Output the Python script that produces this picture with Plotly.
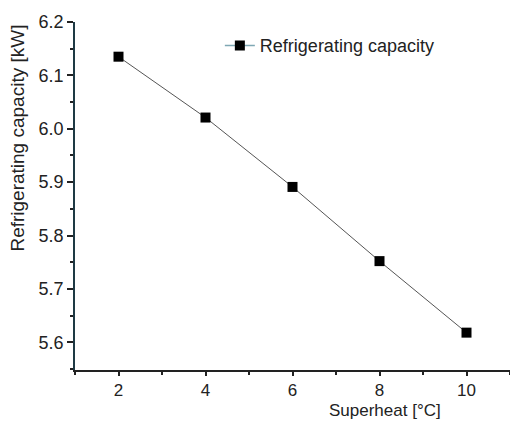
import plotly.graph_objects as go

superheat = [2, 4, 6, 8, 10]
capacity = [6.135, 6.021, 5.891, 5.752, 5.618]
series_name = "Refrigerating capacity"

fig = go.Figure()
fig.add_trace(go.Scatter(
    x=superheat, y=capacity, mode="lines+markers", showlegend=False,
    line=dict(color="#555555", width=1),
    marker=dict(symbol="square", size=10, color="black"),
))
fig.add_trace(go.Scatter(
    x=[None], y=[None], mode="lines+markers", name=series_name,
    line=dict(color="#7fa8b4", width=1.5),
    marker=dict(symbol="square", size=10, color="black"),
))

font = dict(family="Liberation Sans, Arial, sans-serif", size=18, color="#222222")
tfont = dict(family="Liberation Sans, Arial, sans-serif", size=19, color="#222222")
xfont = dict(family="Liberation Sans, Arial, sans-serif", size=17, color="#222222")
fig.update_layout(
    width=510, height=424,
    margin=dict(l=75, r=0, t=22, b=54),
    paper_bgcolor="white", plot_bgcolor="white",
    font=font,
    showlegend=True,
    legend=dict(x=0.333, y=0.985, xanchor="left", yanchor="top",
                bgcolor="rgba(0,0,0,0)", font=font),
)
fig.update_xaxes(
    range=[1, 11], tickmode="array", tickvals=[2, 4, 6, 8, 10],
    tickfont=dict(size=17),
    ticks="outside", ticklen=4, tickwidth=1.5, tickcolor="#222",
    showline=True, linecolor="#222", linewidth=1.5, showgrid=False, zeroline=False,
    minor=dict(tickvals=[1, 3, 5, 7, 9, 11], ticks="outside", ticklen=3, tickcolor="#222", tickwidth=1.5, showgrid=False),
)
fig.update_yaxes(
    range=[5.548, 6.2], tickmode="array", tickvals=[5.6, 5.7, 5.8, 5.9, 6.0, 6.1, 6.2],
    tickformat=".1f",
    ticks="outside", ticklen=6, tickwidth=1.5, tickcolor="#222",
    showline=True, linecolor="#1e3a44", linewidth=1.5, showgrid=False, zeroline=False,
    minor=dict(tickvals=[5.55, 5.65, 5.75, 5.85, 5.95, 6.05, 6.15], ticks="outside", ticklen=3, tickcolor="#222", tickwidth=1.5, showgrid=False),
)
fig.add_annotation(
    text="Refrigerating capacity [kW]", xref="paper", yref="paper", x=-0.131, y=0.665,
    xanchor="center", yanchor="middle", textangle=-90, showarrow=False, font=tfont,
)
fig.add_annotation(
    text="Superheat [°C]", xref="paper", yref="paper", x=0.713, y=-0.148,
    xanchor="center", yanchor="bottom", showarrow=False, font=xfont,
)
fig.write_html("out.html")
